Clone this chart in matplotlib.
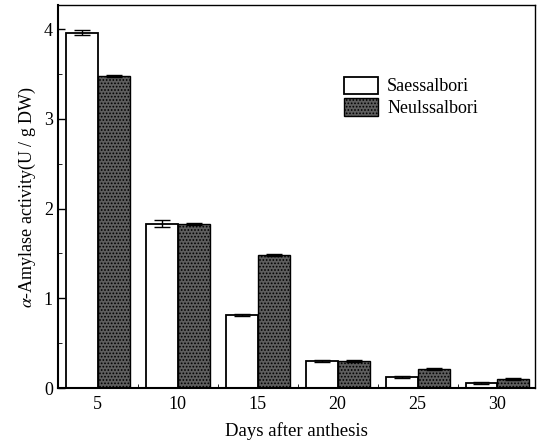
import numpy as np
import matplotlib.pyplot as plt

plt.rcParams['font.family'] = ['Liberation Serif', 'DejaVu Serif']
plt.rcParams['mathtext.fontset'] = 'stix'
plt.rcParams['hatch.color'] = '#c8c8c8'
plt.rcParams['hatch.linewidth'] = 0.8

days = ['5', '10', '15', '20', '25', '30']
saessalbori = [3.96, 1.83, 0.81, 0.30, 0.12, 0.06]
saes_err = [0.03, 0.04, 0.01, 0.01, 0.01, 0.01]
neulssalbori = [3.48, 1.83, 1.48, 0.30, 0.21, 0.10]
neul_err = [0.01, 0.01, 0.01, 0.01, 0.01, 0.01]

fig = plt.figure(figsize=(5.41, 4.44), dpi=100)
ax = fig.add_axes([0.107, 0.126, 0.882, 0.863])

x = np.arange(len(days))
w = 0.4
ax.bar(x - w/2, saessalbori, w, yerr=saes_err, color='white', edgecolor='black',
       linewidth=1.3, capsize=6, error_kw=dict(elinewidth=1, capthick=1),
       label='Saessalbori')
ax.bar(x + w/2, neulssalbori, w, yerr=neul_err, color='#5e5e5e', edgecolor='black',
       linewidth=1.0, hatch='.....', capsize=6, error_kw=dict(elinewidth=1, capthick=1),
       label='Neulssalbori')

ax.set_xlim(-0.5, 5.47)
ax.set_ylim(0, 4.27)
ax.set_xticks(x)
ax.set_xticklabels(days)
ax.set_xticks(x[:-1] + 0.5, minor=True)
ax.set_yticks([0, 1, 2, 3, 4])
ax.set_yticks(np.arange(0.5, 4.5, 1), minor=True)
ax.tick_params(axis='y', direction='in', length=5, width=1, labelsize=13)
ax.tick_params(axis='y', which='minor', direction='in', length=3)
ax.tick_params(axis='x', which='major', length=0, labelsize=13, pad=6)
ax.tick_params(axis='x', which='minor', direction='in', length=3)

ax.spines['left'].set_linewidth(1.5)
ax.spines['bottom'].set_linewidth(1.5)
ax.spines['top'].set_linewidth(1.0)
ax.spines['right'].set_linewidth(1.0)

ax.set_xlabel('Days after anthesis', fontsize=13.5, labelpad=6)
ax.set_ylabel(r'$\alpha$-Amylase activity(U / g DW)', fontsize=13, labelpad=4)

ax.legend(loc='upper left', bbox_to_anchor=(0.565, 0.855), frameon=False,
          fontsize=13, handlelength=1.9, handleheight=1.1, handletextpad=0.5,
          labelspacing=0.15)

fig.savefig('out.png', dpi=100)
